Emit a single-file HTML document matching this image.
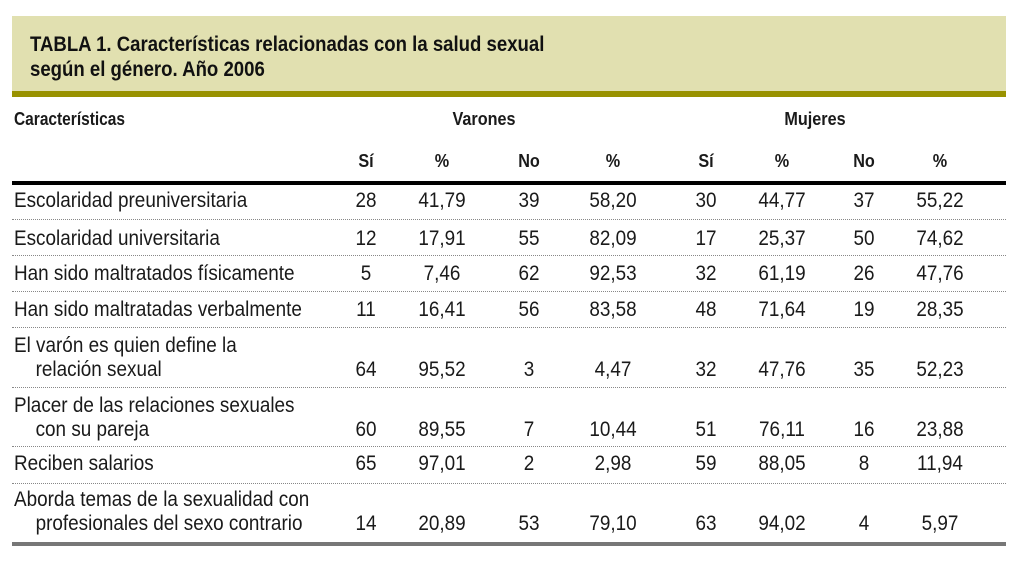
<!DOCTYPE html>
<html><head><meta charset="utf-8">
<style>
body{margin:0;width:1024px;height:567px;background:#fff;position:relative;overflow:hidden;font-family:"Liberation Sans",sans-serif;color:#1a1a1a}
.abs{position:absolute;white-space:nowrap}
.l{transform:scaleX(.9);transform-origin:left top}
.c{transform:translateX(-50%) scaleX(.9);transform-origin:center top}
#title-box{left:12px;top:16px;width:994px;height:75px;background:#e1e0b0}
#title-bar{left:12px;top:91px;width:994px;height:6px;background:#999200}
#title{left:30px;top:32px;font-weight:bold;font-size:21px;line-height:25px;color:#111;transform:scaleX(.885);transform-origin:left top}
.h{font-weight:bold;font-size:18px}
.hl{transform:scaleX(.86);transform-origin:left top}
.t{font-size:21px;line-height:24px}
.sep{left:12px;width:994px;height:0;border-top:1px dotted #888}
</style></head><body>
<div class="abs" id="title-box"></div>
<div class="abs" id="title-bar"></div>
<div class="abs" id="title">TABLA 1. Características relacionadas con la salud sexual<br>según el género. Año 2006</div>
<div class="abs h hl" style="left:14px;top:109px">Características</div>
<div class="abs h c" style="left:484px;top:109px">Varones</div>
<div class="abs h c" style="left:815px;top:109px">Mujeres</div>
<div class="abs" style="left:12px;top:181px;width:994px;height:4px;background:#000"></div>
<div class="abs" style="left:12px;top:542px;width:994px;height:4px;background:#777"></div>
<script>
const colHeaders=["Sí","%","No","%","Sí","%","No","%"];
const colX=[366,442,529,613,706,782,864,940];
const labels=[["Escolaridad preuniversitaria"],["Escolaridad universitaria"],["Han sido maltratados físicamente"],["Han sido maltratadas verbalmente"],["El varón es quien define la","relación sexual"],["Placer de las relaciones sexuales","con su pareja"],["Reciben salarios"],["Aborda temas de la sexualidad con","profesionales del sexo contrario"]];
const values=[["28","41,79","39","58,20","30","44,77","37","55,22"],["12","17,91","55","82,09","17","25,37","50","74,62"],["5","7,46","62","92,53","32","61,19","26","47,76"],["11","16,41","56","83,58","48","71,64","19","28,35"],["64","95,52","3","4,47","32","47,76","35","52,23"],["60","89,55","7","10,44","51","76,11","16","23,88"],["65","97,01","2","2,98","59","88,05","8","11,94"],["14","20,89","53","79,10","63","94,02","4","5,97"]];
const rowTop=[189,227,262,298,334,394,452,488];
const sepY=[219,255,291,327,387,446,483];
colHeaders.forEach((h,i)=>{const d=document.createElement('div');d.className='abs h c';d.style.left=colX[i]+'px';d.style.top='151px';d.textContent=h;


document.body.appendChild(d);});
labels.forEach((l,r)=>{
 const two=l.length>1;
 const d=document.createElement('div');d.className='abs t l';d.style.left='14px';d.style.top=rowTop[r]+'px';
 d.innerHTML=l[0]+(two?'<br><span style="padding-left:24px">'+l[1]+'</span>':'');
 
 
 document.body.appendChild(d);
 values[r].forEach((v,i)=>{const e=document.createElement('div');e.className='abs t c';e.style.left=colX[i]+'px';e.style.top=(rowTop[r]+(two?24:0))+'px';e.textContent=v;
 
 
 document.body.appendChild(e);});
});
sepY.forEach(y=>{const s=document.createElement('div');s.className='abs sep';s.style.top=y+'px';


document.body.appendChild(s);});
</script>
</body></html>
